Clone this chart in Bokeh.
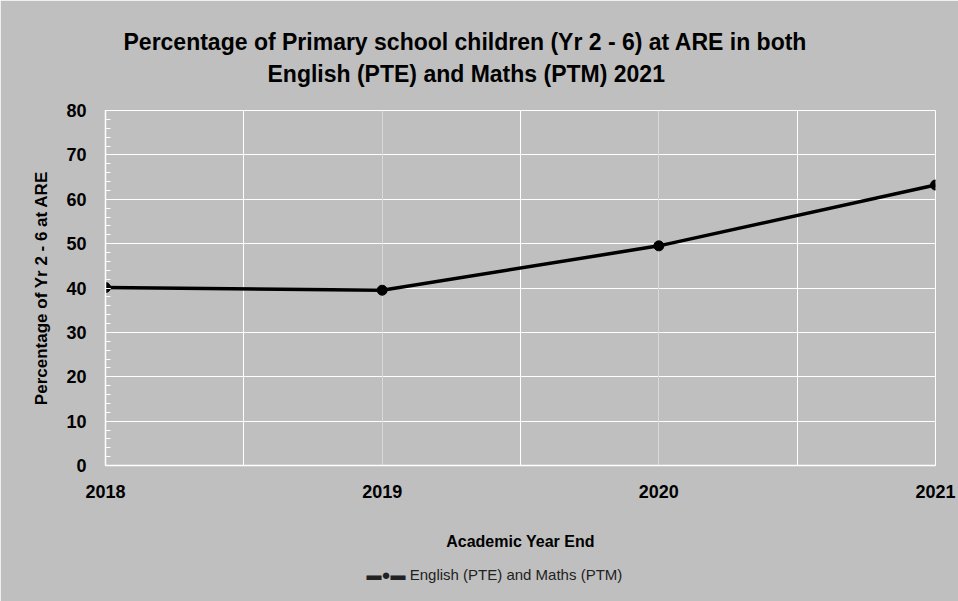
from bokeh.plotting import figure
from bokeh.models import Range1d, FixedTicker, Grid, Title
from bokeh.embed import file_html
from bokeh.resources import INLINE

# ---- data ----
years = [2018, 2019, 2020, 2021]
pct = [40.1, 39.5, 49.5, 63.2]
series_name = "English (PTE) and Maths (PTM)"
title_1 = "Percentage of Primary  school children (Yr 2 - 6) at ARE in both"
title_2 = "English (PTE) and Maths (PTM) 2021"
ylab = "Percentage of Yr 2 - 6 at ARE"
xlab = "Academic Year End"
y_ticks = [0, 10, 20, 30, 40, 50, 60, 70, 80]

FONT = "Liberation Sans"
BG = "#BFBFBF"
W, H = 958, 601
FL, FR, FT, FB = 105, 935, 110, 465   # frame edges in page pixels

p = figure(width=W, height=H, output_backend="svg", toolbar_location=None, title=None,
           x_range=Range1d(2018, 2021), y_range=Range1d(0, 80),
           min_border_left=FL, min_border_right=W - FR,
           min_border_top=FT, min_border_bottom=H - FB)
p.background_fill_color = BG
p.border_fill_color = BG
p.outline_line_color = "white"
p.outline_line_width = 1

# grids
p.ygrid.ticker = FixedTicker(ticks=y_ticks)
p.ygrid.grid_line_color = "white"
p.ygrid.grid_line_width = 1
p.xgrid.ticker = FixedTicker(ticks=[2018.5, 2019.5, 2020.5])
p.xgrid.grid_line_color = "white"
p.xgrid.grid_line_width = 1
p.add_layout(Grid(dimension=0, ticker=FixedTicker(ticks=[2019, 2020]),
                  grid_line_color="#D9D9D9", grid_line_width=1))

# axes
yax = p.yaxis[0]
yax.ticker = FixedTicker(ticks=y_ticks, minor_ticks=list(range(0, 81, 2)))
yax.axis_line_color = "white"
yax.axis_line_width = 1.5
yax.major_tick_in = 5
yax.major_tick_out = 0
yax.major_tick_line_color = "white"
yax.minor_tick_in = 5
yax.minor_tick_out = 0
yax.minor_tick_line_color = "white"
yax.major_label_standoff = 19
yax.major_label_text_font = FONT
yax.major_label_text_font_style = "bold"
yax.major_label_text_font_size = "18px"
yax.major_label_text_color = "black"
yax.axis_label = ylab
yax.axis_label_text_font = FONT
yax.axis_label_text_font_style = "bold"
yax.axis_label_text_font_size = "17px"
yax.axis_label_text_color = "black"
yax.axis_label_standoff = 12

xax = p.xaxis[0]
xax.ticker = FixedTicker(ticks=years)
xax.axis_line_color = "white"
xax.axis_line_width = 1.5
xax.major_tick_in = 0
xax.major_tick_out = 0
xax.minor_tick_line_color = None
xax.major_label_standoff = 19
xax.major_label_text_font = FONT
xax.major_label_text_font_style = "bold"
xax.major_label_text_font_size = "18px"
xax.major_label_text_color = "black"
xax.axis_label = xlab
xax.axis_label_text_font = FONT
xax.axis_label_text_font_style = "bold"
xax.axis_label_text_font_size = "16px"
xax.axis_label_text_color = "black"
xax.axis_label_standoff = 32

# series
r_line = p.line(years, pct, line_color="black", line_width=3.5)
r_pts = p.scatter(years, pct, size=10, marker="circle", fill_color="black", line_color="black")

# key below the axis title (line-with-marker symbol followed by the series name)
p.add_layout(Title(text="\u25ac\u25cf\u25ac " + series_name, align="left", offset=261,
                   standoff=26, vertical_align="top",
                   text_font=FONT, text_font_style="normal", text_font_size="15px",
                   text_color="#222222"), "below")

# titles: spacer next to the frame, then line 2, then line 1 (outermost)
p.add_layout(Title(text=" ", text_font_size="1px", standoff=16), "above")
p.add_layout(Title(text=title_2, align="left", offset=162, standoff=9, vertical_align="bottom",
                   text_font=FONT, text_font_style="bold", text_font_size="23px",
                   text_color="black"), "above")
p.add_layout(Title(text=title_1, align="left", offset=18, standoff=0, vertical_align="bottom",
                   text_font=FONT, text_font_style="bold", text_font_size="23px",
                   text_color="black"), "above")

open("out.html", "w").write(file_html(p, INLINE))
